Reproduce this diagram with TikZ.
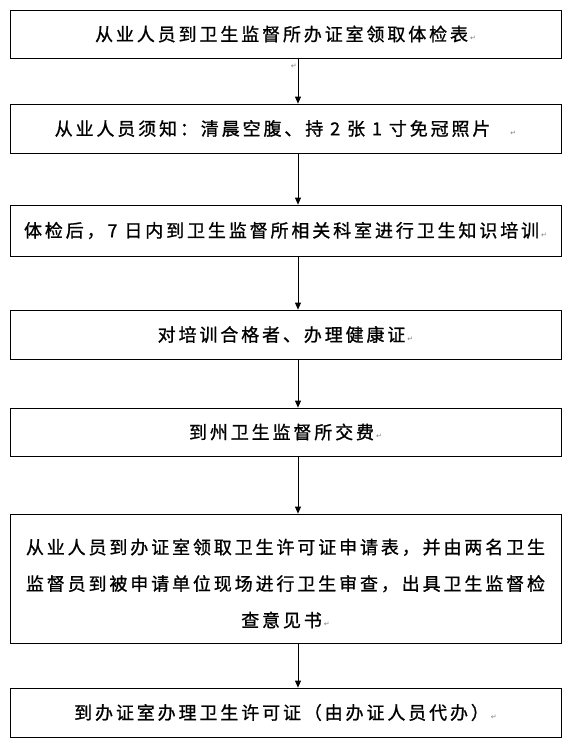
\documentclass[tikz,border=0pt]{standalone}
\usepackage{fontspec}
\setmainfont{Noto Sans CJK SC}[LetterSpace=16,FakeBold=1]
\newfontfamily\symf{DejaVu Sans}
\usetikzlibrary{arrows.meta}
\newcommand\parmark{\kern2pt{\symf\fontsize{7}{7}\selectfont\color{gray}↵}}
\begin{document}
\begin{tikzpicture}[x=1pt,y=-1pt,
  box/.style={draw, line width=0.8pt, minimum width=551pt, inner sep=0pt,
    font=\fontsize{18}{36}\selectfont, align=center},
  arr/.style={draw, line width=0.8pt, -{Triangle[length=7pt,width=6pt]}}]
\useasboundingbox (0,0) rectangle (569,745);
\coordinate (ax) at (298,0);
\node[box, minimum height=48pt] (b1) at (285.5,34) {从业人员到卫生监督所办证室领取体检表\parmark};
\node[box, minimum height=49pt] (b2) at (285.5,128.5) {从业人员须知：清晨空腹、持 2 张 1 寸免冠照片\quad\parmark};
\node[box, minimum height=51pt] (b3) at (285.5,230.5) {体检后，7 日内到卫生监督所相关科室进行卫生知识培训\parmark};
\node[box, minimum height=49pt] (b4) at (285.5,334.5) {对培训合格者、办理健康证\parmark};
\node[box, minimum height=48pt] (b5) at (285.5,432) {到州卫生监督所交费\parmark};
\node[box, minimum height=129pt] (b6) at (285.5,578.5) {};
\node[font=\fontsize{18}{36.5}\selectfont, align=center, inner sep=0pt] (t6) at (b6.center) [yshift=-5pt] {从业人员到办证室领取卫生许可证申请表，并由两名卫生\\监督员到被申请单位现场进行卫生审查，出具卫生监督检\\查意见书\parmark};
\node[box, minimum height=49pt] (b7) at (285.5,712.5) {到办证室办理卫生许可证（由办证人员代办）\parmark};
\draw[arr] (b1.south -| ax) -- (b2.north -| ax);
\draw[arr] (b2.south -| ax) -- (b3.north -| ax);
\draw[arr] (b3.south -| ax) -- (b4.north -| ax);
\draw[arr] (b4.south -| ax) -- (b5.north -| ax);
\draw[arr] (b5.south -| ax) -- (b6.north -| ax);
\draw[arr] (b6.south -| ax) -- (b7.north -| ax);
\node[inner sep=0pt, anchor=east] (pm1) at (297,66) {\parmark};
\end{tikzpicture}
\end{document}
